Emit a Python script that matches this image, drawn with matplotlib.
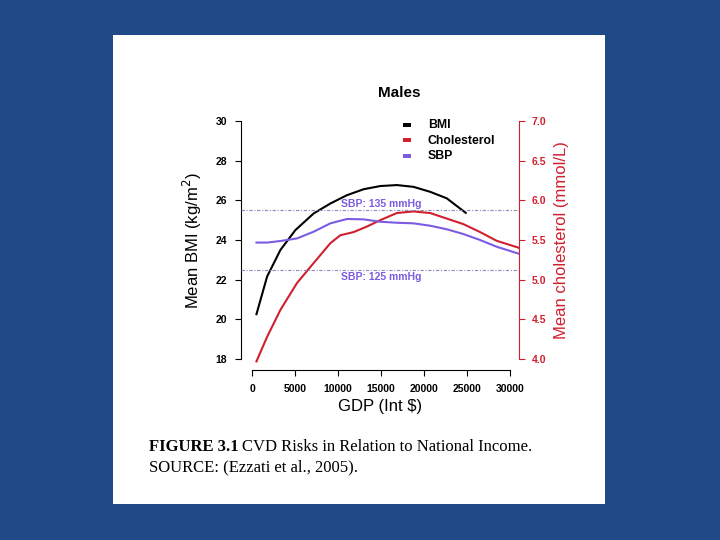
import numpy as np
import matplotlib
matplotlib.use('Agg')
from matplotlib import pyplot as plt

# data
gdp_bmi = [500, 1740, 3290, 5030, 7160, 9100, 11030, 12970, 14900, 16840, 18770, 20710, 22650, 24850]
bmi = [20.26, 22.16, 23.5, 24.5, 25.34, 25.84, 26.26, 26.56, 26.72, 26.77, 26.68, 26.43, 26.1, 25.37]

gdp_chol = [500, 1740, 3290, 5230, 7160, 9100, 10260, 11810, 13360, 14900, 16840, 18770, 20710,
            22650, 24580, 26520, 28450, 31080]
chol = [3.97, 4.28, 4.62, 4.96, 5.21, 5.46, 5.56, 5.60, 5.67, 5.75, 5.84, 5.86, 5.84,
        5.77, 5.70, 5.60, 5.49, 5.40]

gdp_sbp = [500, 1740, 3290, 5230, 7160, 9100, 11030, 12970, 14900, 16840, 18770, 20710,
           22650, 24580, 26520, 28450, 31080]
sbp = [129.57, 129.57, 129.83, 130.27, 131.4, 132.8, 133.53, 133.47, 133.07, 132.9, 132.8,
       132.4, 131.8, 131.0, 130.0, 128.87, 127.67]

sbp_refs = [135, 125]
bmi_ticks = [18, 20, 22, 24, 26, 28, 30]
chol_ticks = [4.0, 4.5, 5.0, 5.5, 6.0, 6.5, 7.0]
gdp_ticks = [0, 5000, 10000, 15000, 20000, 25000, 30000]

BLUE_BG = '#204a87'
RED = '#d0202e'
PURPLE = '#7b5ce0'

plt.rcParams['font.family'] = ['Liberation Sans', 'DejaVu Sans']

fig = plt.figure(figsize=(7.2, 5.4), dpi=100)
fig.patch.set_facecolor(BLUE_BG)
panel = plt.Rectangle((113/720, 1-504/540), (605-113)/720, (504-35)/540,
                      transform=fig.transFigure, facecolor='white', edgecolor='none', zorder=-5)
fig.patches.append(panel)

xlim = (-1300, 31050)
ylim = (17.45, 30.5)
# plot region in pixels
x0, x1 = 241, 519
y_top = 359 - (ylim[1]-18)*(359-121)/12
y_bot = 359 - (ylim[0]-18)*(359-121)/12
ax = fig.add_axes([x0/720, 1-y_bot/540, (x1-x0)/720, (y_bot-y_top)/540])
ax.patch.set_visible(False)
ax.set_xlim(xlim)
ax.set_ylim(ylim)

# chol axis shares the same pixel mapping: 4.0 <-> 18, 7.0 <-> 30
ax2 = ax.twinx()
ax2.set_ylim(4 + (ylim[0]-18)*0.25, 4 + (ylim[1]-18)*0.25)
# hidden sbp axis: 125 <-> 22.5, 135 <-> 25.5
ax3 = ax.twinx()
ax3.set_ylim(125 + (ylim[0]-22.5)*10/3, 125 + (ylim[1]-22.5)*10/3)
ax3.axis('off')
ax2.patch.set_visible(False)
ax3.patch.set_visible(False)

for a in (ax, ax2):
    for s in a.spines.values():
        s.set_visible(False)

ax.spines['left'].set_visible(True)
ax.spines['left'].set_bounds(18, 30)
ax.spines['bottom'].set_visible(True)
ax.spines['bottom'].set_bounds(0, 30000)
ax2.spines['right'].set_visible(True)
ax2.spines['right'].set_bounds(4.0, 7.0)
ax2.spines['right'].set_color(RED)

tick_font = dict(fontsize=7.5, fontweight='bold')
ax.set_yticks(bmi_ticks)
ax.set_yticklabels([str(t) for t in bmi_ticks], **tick_font)
ax.set_xticks(gdp_ticks)
ax.set_xticklabels([str(t) for t in gdp_ticks], **tick_font)
ax2.set_yticks(chol_ticks)
ax2.set_yticklabels(['%.1f' % t for t in chol_ticks], color=RED, **tick_font)
ax.tick_params(axis='y', length=4, width=0.8, pad=6)
ax.tick_params(axis='x', length=4, width=0.8, pad=6)
ax2.tick_params(length=4, width=0.8, pad=5, colors=RED)

for r in sbp_refs:
    ax3.axhline(r, color='#8f86bf', lw=0.8, ls=(0, (3, 1.5, 1, 1.5)))
ax3.text(15000, 135.25, 'SBP: 135 mmHg', ha='center', va='bottom', color=PURPLE,
         fontsize=7.5, fontweight='bold')
ax3.text(15000, 124.65, 'SBP: 125 mmHg', ha='center', va='top', color=PURPLE,
         fontsize=7.5, fontweight='bold')

ax3.plot(gdp_sbp, sbp, color=PURPLE, lw=1.5, solid_joinstyle='round')
ax2.plot(gdp_chol, chol, color=RED, lw=1.5, solid_joinstyle='round')
ax.plot(gdp_bmi, bmi, color='black', lw=1.5, solid_joinstyle='round')

ax.set_ylabel('Mean BMI (kg/m$^2$)', fontsize=12, labelpad=8)
ax2.set_ylabel('Mean cholesterol (mmol/L)', fontsize=12, color=RED, labelpad=6)
ax.set_xlabel('GDP (Int $)', fontsize=12, labelpad=4)
fig.text(399/720, 1-93/540, 'Males', ha='center', va='center', fontsize=11, fontweight='bold')

# legend
leg_items = [('BMI', 'black'), ('Cholesterol', RED), ('SBP', PURPLE)]
for i, (name, c) in enumerate(leg_items):
    yy = 1 - (125 + i*15.5)/540
    fig.patches.append(plt.Rectangle((403/720, yy-1.5/540), 8/720, 3.5/540, transform=fig.transFigure,
                                     facecolor=c, edgecolor='none', zorder=5))
    fig.text(428/720, yy, name, ha='left', va='center', fontsize=8.8, fontweight='bold')

# caption
serif = ['Liberation Serif', 'DejaVu Serif']
fig.text(149/720, 1-447/540, 'FIGURE 3.1', ha='left', va='center', fontsize=12,
         fontweight='bold', family=serif)
fig.text(242/720, 1-447/540, 'CVD Risks in Relation to National Income.', ha='left', va='center',
         fontsize=12, family=serif)
fig.text(149/720, 1-467/540, 'SOURCE: (Ezzati et al., 2005).', ha='left', va='center',
         fontsize=12, family=serif)

fig.savefig('out.png', dpi=100, facecolor=fig.get_facecolor())
